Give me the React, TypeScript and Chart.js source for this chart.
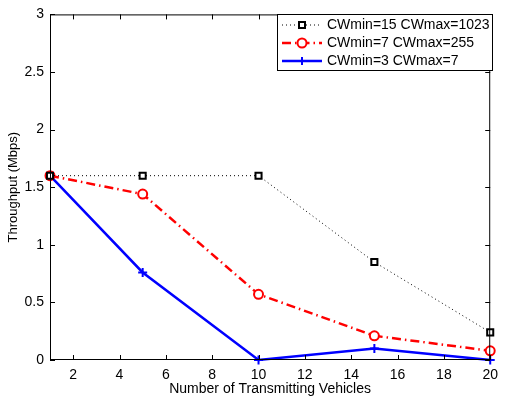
import React, { useEffect, useRef } from "react";
import { Chart, registerables } from "chart.js";

Chart.register(...registerables);

const VEHICLES = [1, 5, 10, 15, 20];
const CW15 = [1.6, 1.6, 1.6, 0.85, 0.24];
const CW7 = [1.6, 1.44, 0.57, 0.21, 0.08];
const CW3 = [1.6, 0.76, 0, 0.1, 0];
const X_TICKS = [2, 4, 6, 8, 10, 12, 14, 16, 18, 20];
const Y_TICKS = [0, 0.5, 1, 1.5, 2, 2.5, 3];
const LABELS = ["CWmin=15 CWmax=1023", "CWmin=7 CWmax=255", "CWmin=3 CWmax=7"];

const FONT = "'Liberation Sans', Arial, Helvetica, sans-serif";

function drawMarker(ctx: CanvasRenderingContext2D, kind: string, x: number, y: number) {
  ctx.save();
  ctx.setLineDash([]);
  if (kind === "rect") {
    ctx.fillStyle = "#fff";
    ctx.strokeStyle = "#000";
    ctx.lineWidth = 2;
    ctx.fillRect(x - 3, y - 3, 6, 6);
    ctx.strokeRect(x - 3, y - 3, 6, 6);
  } else if (kind === "circle") {
    ctx.fillStyle = "#fff";
    ctx.strokeStyle = "#ff0000";
    ctx.lineWidth = 2;
    ctx.beginPath();
    ctx.arc(x, y, 4.5, 0, Math.PI * 2);
    ctx.fill();
    ctx.stroke();
  } else {
    ctx.strokeStyle = "#0000ff";
    ctx.lineWidth = 2;
    ctx.beginPath();
    ctx.moveTo(x - 4, y);
    ctx.lineTo(x + 4, y);
    ctx.moveTo(x, y - 4);
    ctx.lineTo(x, y + 4);
    ctx.stroke();
  }
  ctx.restore();
}

const framePlugin = {
  id: "frame",
  afterDatasetsDraw(chart: any) {
    const { ctx, chartArea: a, scales } = chart;
    ctx.save();
    ctx.strokeStyle = "#000";
    ctx.lineWidth = 1;
    ctx.setLineDash([]);
    ctx.strokeRect(a.left + 0.5, a.top + 0.5, a.right - a.left - 1, a.bottom - a.top - 1);
    const tl = 5;
    ctx.beginPath();
    for (const t of scales.x.ticks) {
      const px = Math.round(scales.x.getPixelForValue(t.value)) + 0.5;
      ctx.moveTo(px, a.bottom);
      ctx.lineTo(px, a.bottom - tl);
      ctx.moveTo(px, a.top);
      ctx.lineTo(px, a.top + tl);
    }
    for (const t of scales.y.ticks) {
      const py = Math.round(scales.y.getPixelForValue(t.value)) + 0.5;
      ctx.moveTo(a.left, py);
      ctx.lineTo(a.left + tl, py);
      ctx.moveTo(a.right, py);
      ctx.lineTo(a.right - tl, py);
    }
    ctx.stroke();

    // legend
    const bx = 277.5, by = 14.5, bw = 215, bh = 56;
    ctx.fillStyle = "#fff";
    ctx.fillRect(bx, by, bw, bh);
    ctx.strokeStyle = "#000";
    ctx.lineWidth = 1;
    ctx.strokeRect(bx, by, bw, bh);
    const rows = [25, 43, 61];
    const ds = chart.data.datasets;
    const kinds = ["rect", "circle", "cross"];
    rows.forEach((ry, i) => {
      const d = ds[i];
      ctx.save();
      ctx.strokeStyle = d.borderColor;
      ctx.lineWidth = d.borderWidth;
      ctx.setLineDash(d.borderDash || []);
      ctx.beginPath();
      ctx.moveTo(282, ry);
      ctx.lineTo(322, ry);
      ctx.stroke();
      ctx.restore();
      drawMarker(ctx, kinds[i], 302, ry);
      ctx.fillStyle = "#000";
      ctx.font = `14px ${FONT}`;
      ctx.textBaseline = "middle";
      ctx.textAlign = "left";
      ctx.fillText(LABELS[i], 327, ry + 0.5);
    });
    ctx.restore();
  },
};

export default function App() {
  const ref = useRef<HTMLCanvasElement>(null);
  useEffect(() => {
    document.body.style.margin = "0";
    const chart = new Chart(ref.current!, {
      type: "line",
      data: {
        datasets: [
          {
            label: LABELS[0],
            data: VEHICLES.map((x, i) => ({ x, y: CW15[i] })),
            borderColor: "#000",
            borderWidth: 1,
            borderDash: [1, 3],
            pointStyle: "rect",
            pointRadius: 4.3,
            pointBorderWidth: 2,
            pointBorderColor: "#000",
            pointBackgroundColor: "#fff",
            tension: 0,
          },
          {
            label: LABELS[1],
            data: VEHICLES.map((x, i) => ({ x, y: CW7[i] })),
            borderColor: "#ff0000",
            borderWidth: 2.5,
            borderDash: [9, 4, 1.5, 4],
            pointStyle: "circle",
            pointRadius: 4.5,
            pointBorderWidth: 2,
            pointBorderColor: "#ff0000",
            pointBackgroundColor: "#fff",
            tension: 0,
          },
          {
            label: LABELS[2],
            data: VEHICLES.map((x, i) => ({ x, y: CW3[i] })),
            borderColor: "#0000ff",
            borderWidth: 2.5,
            pointStyle: "cross",
            pointRadius: 4.5,
            pointBorderWidth: 2,
            pointBorderColor: "#0000ff",
            pointBackgroundColor: "#0000ff",
            tension: 0,
          },
        ],
      },
      options: {
        animation: false,
        responsive: false,
        events: [],
        clip: false as any,
        layout: { padding: { left: 0, right: 9, top: 6, bottom: 0 } },
        plugins: { legend: { display: false }, tooltip: { enabled: false } },
        scales: {
          x: {
            type: "linear",
            min: 1,
            max: 20,
            afterBuildTicks: (s: any) => {
              s.ticks = X_TICKS.map((v) => ({ value: v }));
            },
            afterFit: (s: any) => {
              s.height = 42;
            },
            grid: { display: false, drawTicks: false },
            border: { display: false },
            ticks: {
              color: "#000",
              font: { family: FONT, size: 14 },
              padding: 7,
              maxRotation: 0,
              autoSkip: false,
              callback: (v: any) => String(v),
            },
            title: {
              display: true,
              text: "Number of Transmitting Vehicles",
              color: "#000",
              font: { family: FONT, size: 14 },
              padding: { top: 0, bottom: 4 },
            },
          },
          y: {
            type: "linear",
            min: 0,
            max: 3,
            afterBuildTicks: (s: any) => {
              s.ticks = Y_TICKS.map((v) => ({ value: v }));
            },
            afterFit: (s: any) => {
              s.width = 50;
            },
            grid: { display: false, drawTicks: false },
            border: { display: false },
            ticks: {
              color: "#000",
              font: { family: FONT, size: 14 },
              padding: 6,
              autoSkip: false,
              callback: (v: any) => String(v),
            },
            title: {
              display: true,
              text: "Throughput (Mbps)",
              color: "#000",
              font: { family: FONT, size: 13 },
              padding: { top: 6, bottom: 0 },
            },
          },
        },
      },
      plugins: [framePlugin],
    });
    return () => chart.destroy();
  }, []);
  return <canvas ref={ref} width={505} height={402} style={{ display: "block" }} />;
}
